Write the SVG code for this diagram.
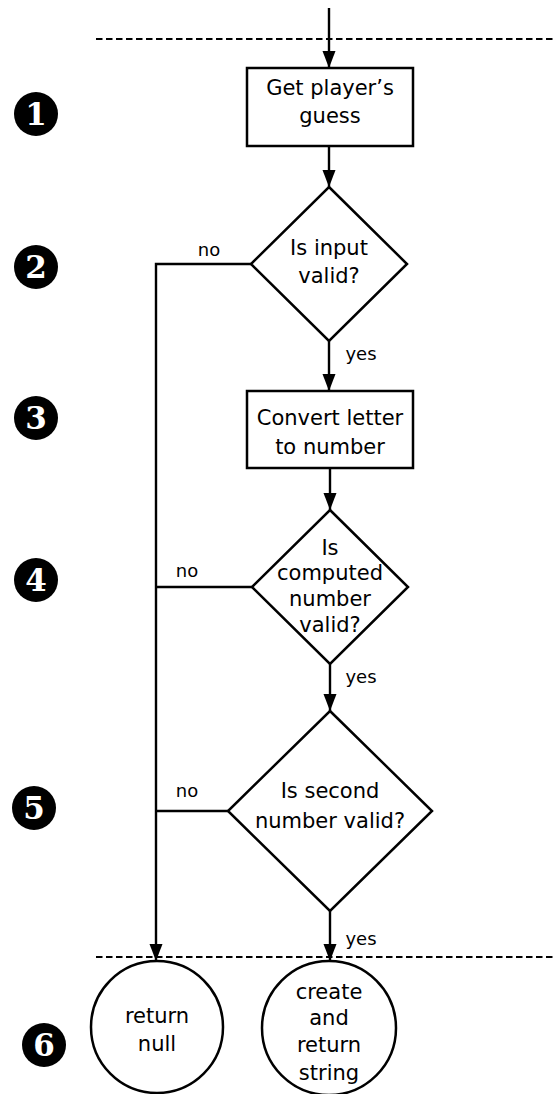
<svg xmlns="http://www.w3.org/2000/svg" width="556" height="1094" viewBox="0 0 556 1094">
<style>
.shape{fill:#fff;stroke:#000;stroke-width:2.5}
.conn{fill:none;stroke:#000;stroke-width:2.4}
.dash{fill:none;stroke:#000;stroke-width:2;stroke-dasharray:6.5,3.5}
.t{font-family:"DejaVu Sans",sans-serif;font-size:21px;fill:#000;text-anchor:middle}
.lbl{font-family:"DejaVu Sans",sans-serif;font-size:18px;fill:#000;text-anchor:middle}
.num{fill:#000}
.numt{font-family:"DejaVu Serif",serif;font-weight:bold;font-size:31px;fill:#fff;text-anchor:middle}
</style>
<defs>
<marker id="arr" markerUnits="userSpaceOnUse" markerWidth="18" markerHeight="14" refX="17" refY="6.5" orient="auto">
<path d="M0,0 L17,6.5 L0,13 Z" fill="#000"/>
</marker>
</defs>
<g id="guides">
<line class="dash" x1="96" y1="39" x2="556" y2="39"/>
<line class="dash" x1="96" y1="957" x2="556" y2="957"/>
</g>
<g id="connectors">
<line class="conn" x1="329" y1="8" x2="329" y2="68" marker-end="url(#arr)"/>
<line class="conn" x1="329" y1="146" x2="329" y2="187" marker-end="url(#arr)"/>
<line class="conn" x1="329" y1="341" x2="329" y2="391" marker-end="url(#arr)"/>
<line class="conn" x1="330" y1="468" x2="330" y2="510" marker-end="url(#arr)"/>
<line class="conn" x1="330" y1="664" x2="330" y2="711" marker-end="url(#arr)"/>
<line class="conn" x1="330" y1="911" x2="330" y2="961" marker-end="url(#arr)"/>
<polyline class="conn" points="251,264 156,264 156,961" marker-end="url(#arr)"/>
<line class="conn" x1="252" y1="587" x2="156" y2="587"/>
<line class="conn" x1="228" y1="811" x2="156" y2="811"/>
<text class="lbl" x="209" y="256">no</text>
<text class="lbl" x="361" y="360">yes</text>
<text class="lbl" x="187" y="577">no</text>
<text class="lbl" x="361" y="683">yes</text>
<text class="lbl" x="187" y="797">no</text>
<text class="lbl" x="361" y="945">yes</text>
</g>
<g id="step1">
<circle class="num" cx="36" cy="114" r="22"/>
<text class="numt" x="36" y="125">1</text>
</g>
<g id="step2">
<circle class="num" cx="36" cy="267" r="22"/>
<text class="numt" x="36" y="278">2</text>
</g>
<g id="step3">
<circle class="num" cx="36" cy="418" r="22"/>
<text class="numt" x="36" y="429">3</text>
</g>
<g id="step4">
<circle class="num" cx="36" cy="580" r="22"/>
<text class="numt" x="36" y="591">4</text>
</g>
<g id="step5">
<circle class="num" cx="34" cy="808" r="22"/>
<text class="numt" x="34" y="819">5</text>
</g>
<g id="step6">
<circle class="num" cx="44" cy="1045" r="22"/>
<text class="numt" x="44" y="1056">6</text>
</g>
<g id="get-guess">
<rect class="shape" x="247" y="68" width="166" height="78"/>
<text class="t" x="330" y="95">Get player’s</text>
<text class="t" x="330" y="123">guess</text>
</g>
<g id="input-valid">
<polygon class="shape" points="329,187 407,264 329,341 251,264"/>
<text class="t" x="329" y="255">Is input</text>
<text class="t" x="329" y="283">valid?</text>
</g>
<g id="convert">
<rect class="shape" x="247" y="391" width="166" height="77"/>
<text class="t" x="330" y="425">Convert letter</text>
<text class="t" x="330" y="454">to number</text>
</g>
<g id="computed-valid">
<polygon class="shape" points="330,510 408,587 330,664 252,587"/>
<text class="t" x="330" y="555">Is</text>
<text class="t" x="330" y="580">computed</text>
<text class="t" x="330" y="606">number</text>
<text class="t" x="330" y="632">valid?</text>
</g>
<g id="second-valid">
<polygon class="shape" points="330,711 432,811 330,911 228,811"/>
<text class="t" x="330" y="798">Is second</text>
<text class="t" x="330" y="828">number valid?</text>
</g>
<g id="return-null">
<circle class="shape" cx="157" cy="1027" r="66"/>
<text class="t" x="157" y="1023">return</text>
<text class="t" x="157" y="1051">null</text>
</g>
<g id="return-string">
<circle class="shape" cx="329" cy="1028" r="67"/>
<text class="t" x="329" y="999">create</text>
<text class="t" x="329" y="1025">and</text>
<text class="t" x="329" y="1052">return</text>
<text class="t" x="329" y="1080">string</text>
</g>
</svg>
